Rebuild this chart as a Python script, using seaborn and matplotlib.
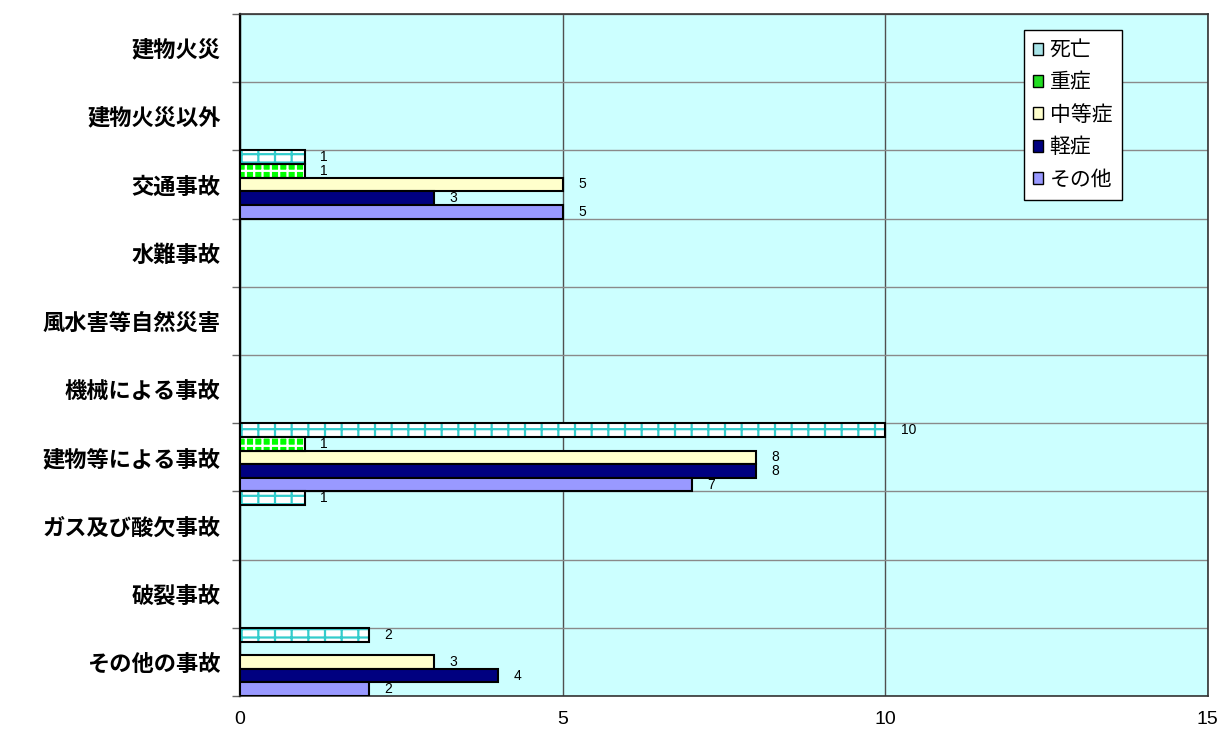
import matplotlib
matplotlib.use("Agg")
import matplotlib.pyplot as plt
import numpy as np
import pandas as pd
import seaborn as sns
from matplotlib.patches import Patch, Rectangle
from matplotlib.ticker import FixedLocator

CATEGORIES = [
    "建物火災",
    "建物火災以外",
    "交通事故",
    "水難事故",
    "風水害等自然災害",
    "機械による事故",
    "建物等による事故",
    "ガス及び酸欠事故",
    "破裂事故",
    "その他の事故",
]
SERIES = ["死亡", "重症", "中等症", "軽症", "その他"]

DEATH = [0, 0, 1, 0, 0, 0, 10, 1, 0, 2]
SERIOUS = [0, 0, 1, 0, 0, 0, 1, 0, 0, 0]
MODERATE = [0, 0, 5, 0, 0, 0, 8, 0, 0, 3]
MILD = [0, 0, 3, 0, 0, 0, 8, 0, 0, 4]
OTHER = [0, 0, 5, 0, 0, 0, 7, 0, 0, 2]

X_TICKS = [0, 5, 10, 15]

# face colour, hatch, hatch colour
STYLES = {
    "死亡": ("white", "--|", "#33CCCC"),
    "重症": ("#00FF00", "++", "white"),
    "中等症": ("#FFFFCC", None, None),
    "軽症": ("#000080", None, None),
    "その他": ("#9999FF", None, None),
}
LEGEND_COLORS = {
    "死亡": "#A8E4E8",
    "重症": "#22DD22",
    "中等症": "#FFFFCC",
    "軽症": "#000080",
    "その他": "#9999FF",
}

CJK = ["Noto Sans CJK JP", "DejaVu Sans"]


def build_frame() -> pd.DataFrame:
    values = [DEATH, SERIOUS, MODERATE, MILD, OTHER]
    rows = []
    for name, vals in zip(SERIES, values):
        for cat, v in zip(CATEGORIES, vals):
            rows.append({"category": cat, "series": name, "count": v})
    return pd.DataFrame(rows)


def main() -> None:
    sns.set_theme(
        style="white",
        rc={
            "text.color": "black",
            "axes.labelcolor": "black",
            "xtick.color": "black",
            "ytick.color": "black",
        },
    )
    plt.rcParams["font.family"] = ["Liberation Sans", "Noto Sans CJK JP"]
    plt.rcParams["hatch.linewidth"] = 1.6

    df = build_frame()

    fig, ax = plt.subplots(figsize=(12.25, 7.32), dpi=100)
    fig.subplots_adjust(left=0.196, right=0.986, top=0.981, bottom=0.049)
    ax.set_facecolor("#CCFFFF")

    sns.barplot(
        data=df,
        x="count",
        y="category",
        hue="series",
        order=CATEGORIES,
        hue_order=SERIES,
        orient="h",
        width=1.0,
        gap=0,
        palette={k: v[0] for k, v in STYLES.items()},
        saturation=1,
        edgecolor="black",
        linewidth=1.5,
        errorbar=None,
        legend=False,
        ax=ax,
        zorder=3,
    )

    for name, container in zip(SERIES, ax.containers):
        face, hatch, hcolor = STYLES[name]
        for patch in container.patches:
            if patch.get_width() == 0:
                patch.set_visible(False)
                continue
            if hatch:
                patch.set_hatch(hatch)
                patch.set_edgecolor(hcolor)
                patch.set_linewidth(0)
                ax.add_patch(
                    Rectangle(
                        patch.get_xy(),
                        patch.get_width(),
                        patch.get_height(),
                        fill=False,
                        edgecolor="black",
                        linewidth=1.5,
                        zorder=4,
                    )
                )
        labels = [f"{v:g}" if v > 0 else "" for v in container.datavalues]
        ax.bar_label(container, labels=labels, padding=11, fontsize=10,
                     family="Liberation Sans", color="black")

    ax.set_xlim(0, 15)
    ax.set_xticks(X_TICKS)
    ax.set_ylim(len(CATEGORIES) - 0.5, -0.5)
    ax.yaxis.set_minor_locator(FixedLocator(np.arange(-0.5, len(CATEGORIES), 1.0)))
    ax.set_xlabel("")
    ax.set_ylabel("")

    ax.grid(False)
    ax.grid(axis="y", which="minor", color="#8a8a8a", linewidth=1.0, zorder=1)
    ax.grid(axis="x", which="major", color="#505050", linewidth=1.0, zorder=1)
    ax.set_axisbelow(True)

    ax.tick_params(axis="x", which="major", direction="out", length=5, width=1,
                   color="#333333", pad=6, labelsize=14)
    ax.tick_params(axis="y", which="major", length=0, pad=14)
    ax.tick_params(axis="y", which="minor", direction="out", length=6, width=1,
                   color="#666666", left=True)
    for label in ax.get_yticklabels():
        label.set_fontfamily(CJK)
        label.set_fontweight("bold")
        label.set_fontsize(16)

    for side, spine in ax.spines.items():
        spine.set_visible(True)
        spine.set_color("#333333")
        spine.set_linewidth(1.2)
    ax.spines["left"].set_color("black")
    ax.spines["left"].set_linewidth(1.6)

    handles = [
        Patch(facecolor=LEGEND_COLORS[s], edgecolor="black", linewidth=1.0)
        for s in SERIES
    ]
    leg = ax.legend(
        handles=handles,
        labels=SERIES,
        loc="upper right",
        bbox_to_anchor=(0.911, 0.977),
        prop={"family": CJK, "size": 15},
        handlelength=0.5,
        handleheight=0.5,
        handletextpad=0.3,
        labelspacing=0.5,
        borderpad=0.45,
        borderaxespad=0,
        fancybox=False,
        framealpha=1,
        edgecolor="black",
        facecolor="white",
    )
    leg.get_frame().set_linewidth(1.0)
    leg.set_zorder(10)

    fig.savefig("out.png", dpi=100)
    plt.close(fig)


if __name__ == "__main__":
    main()
